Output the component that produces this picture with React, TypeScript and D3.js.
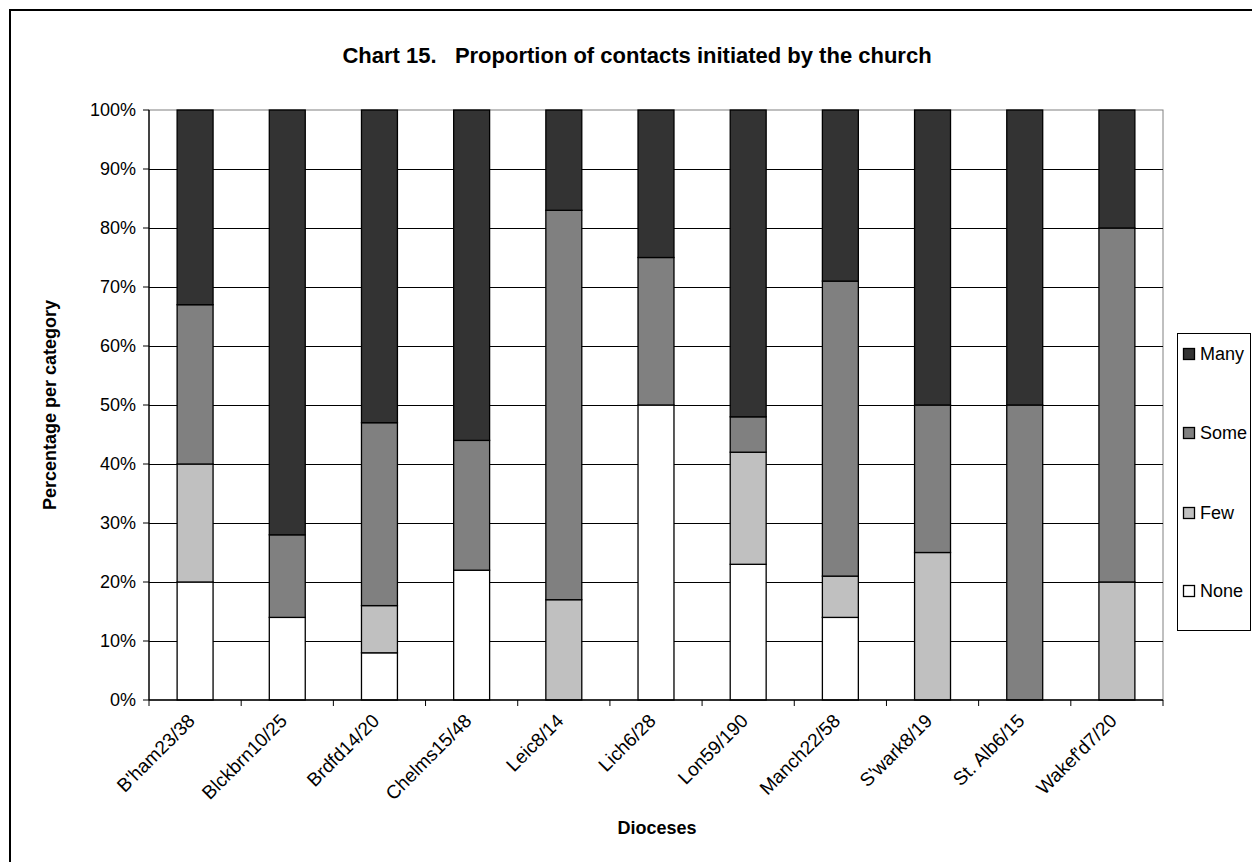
import React from "react";
import * as d3 from "d3";

const categories = [
  "B'ham23/38", "Blckbrn10/25", "Brdfd14/20", "Chelms15/48", "Leic8/14", "Lich6/28",
  "Lon59/190", "Manch22/58", "S'wark8/19", "St. Alb6/15", "Wakef'd7/20",
];
const seriesNames = ["None", "Few", "Some", "Many"];
const none = [20, 14, 8, 22, 0, 50, 23, 14, 0, 0, 0];
const few = [20, 0, 8, 0, 17, 0, 19, 7, 25, 0, 20];
const some = [27, 14, 31, 22, 66, 25, 6, 50, 25, 50, 60];
const many = [33, 72, 53, 56, 17, 25, 52, 29, 50, 50, 20];
const yTicks = [0, 10, 20, 30, 40, 50, 60, 70, 80, 90, 100];
const colors: Record<string, string> = { None: "#FFFFFF", Few: "#C0C0C0", Some: "#808080", Many: "#333333" };

const W = 1252, H = 862;
const plot = { left: 149, right: 1163, top: 110, bottom: 700 };
const FONT = "'Liberation Sans', Arial, Helvetica, sans-serif";

export default function App() {
  const rows = categories.map((c, i) => ({ cat: c, None: none[i], Few: few[i], Some: some[i], Many: many[i] }));
  const stack = d3.stack<any>().keys(seriesNames)(rows);
  const x = d3.scaleBand().domain(categories).range([plot.left, plot.right]).paddingInner(0.61).paddingOuter(0.305);
  const y = d3.scaleLinear().domain([0, 100]).range([plot.bottom, plot.top]);
  const step = x.step();
  const legendItems = ["Many", "Some", "Few", "None"];
  const legendY = [354, 433, 513, 591];

  return (
    <svg width={W} height={H} style={{ position: "absolute", left: 0, top: 0, display: "block" }} fontFamily={FONT}>
      <rect x={0} y={0} width={W} height={H} fill="#fff" />
      <rect x={10} y={10} width={1260} height={880} fill="none" stroke="#000" strokeWidth={2} />
      <text x={637} y={63} textAnchor="middle" fontSize={22} fontWeight="bold" style={{ whiteSpace: "pre" }}>
        {"Chart 15.   Proportion of contacts initiated by the church"}
      </text>
      {/* plot border */}
      <rect x={plot.left} y={plot.top} width={plot.right - plot.left} height={plot.bottom - plot.top} fill="none" stroke="#808080" strokeWidth={1} />
      {/* gridlines */}
      {yTicks.filter((t) => t > 0 && t < 100).map((t) => (
        <line key={t} x1={plot.left} x2={plot.right} y1={Math.round(y(t)) + 0.5} y2={Math.round(y(t)) + 0.5} stroke="#000" strokeWidth={1} />
      ))}
      {/* bars */}
      {stack.map((s) => (
        <g key={s.key}>
          {s.map((d, i) =>
            d[1] - d[0] > 0 ? (
              <rect key={i} x={x(categories[i])!} y={y(d[1])} width={x.bandwidth()} height={y(d[0]) - y(d[1])}
                fill={colors[s.key]} stroke="#000" strokeWidth={1.3} />
            ) : null
          )}
        </g>
      ))}
      {/* y axis */}
      <line x1={plot.left} x2={plot.left} y1={plot.top} y2={plot.bottom} stroke="#000" strokeWidth={1.3} />
      {yTicks.map((t) => (
        <g key={t}>
          <line x1={plot.left - 6} x2={plot.left} y1={y(t)} y2={y(t)} stroke="#000" strokeWidth={1} />
          <text x={136} y={y(t)} dy="0.35em" textAnchor="end" fontSize={18}>{t + "%"}</text>
        </g>
      ))}
      {/* x axis */}
      <line x1={plot.left} x2={plot.right} y1={plot.bottom} y2={plot.bottom} stroke="#000" strokeWidth={1.3} />
      {d3.range(categories.length + 1).map((i) => (
        <line key={i} x1={plot.left + i * step} x2={plot.left + i * step} y1={plot.bottom} y2={plot.bottom + 6} stroke="#000" strokeWidth={1} />
      ))}
      {categories.map((c) => {
        const cx = x(c)! + x.bandwidth() / 2;
        return (
          <text key={c} transform={`translate(${cx + 1},${722}) rotate(-45)`} textAnchor="end" fontSize={19}>{c}</text>
        );
      })}
      <text x={657} y={834} textAnchor="middle" fontSize={18} fontWeight="bold">Dioceses</text>
      <text transform={`translate(56,${(plot.top + plot.bottom) / 2}) rotate(-90)`} textAnchor="middle" fontSize={18} fontWeight="bold">
        Percentage per category
      </text>
      {/* legend */}
      <rect x={1177.5} y={333.5} width={73} height={297} fill="#fff" stroke="#000" strokeWidth={1} />
      {legendItems.map((k, i) => (
        <g key={k}>
          <rect x={1183.5} y={legendY[i] - 5.5} width={11} height={11} fill={colors[k]} stroke="#000" strokeWidth={1.3} />
          <text x={1200} y={legendY[i]} dy="0.35em" fontSize={18}>{k}</text>
        </g>
      ))}
    </svg>
  );
}
